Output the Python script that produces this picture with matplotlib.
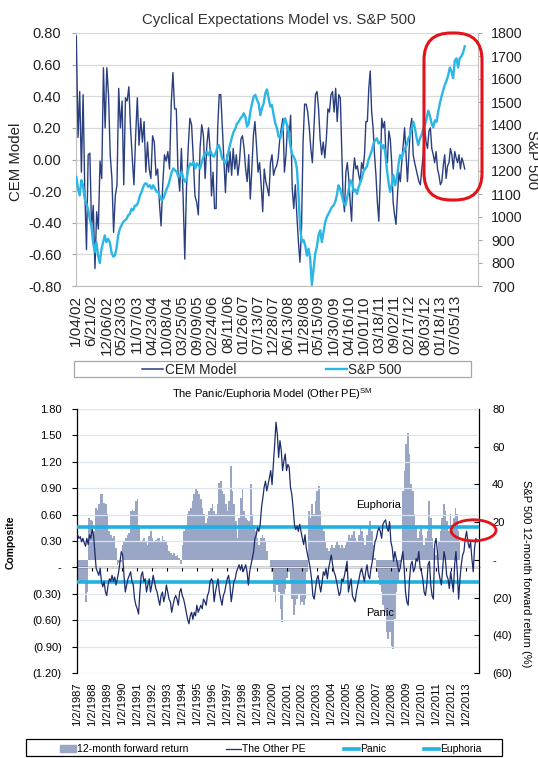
import numpy as np
import matplotlib
matplotlib.use("Agg")
import matplotlib.pyplot as plt
from matplotlib.patches import FancyBboxPatch, Ellipse, Rectangle, Patch
from matplotlib.lines import Line2D
from matplotlib.transforms import IdentityTransform

plt.rcParams['font.family'] = ['Liberation Sans', 'DejaVu Sans']

# ---------------- top chart data (x in weeks since 1/04/02) ----------------
cem_a = [0.78, 0.14, 0.43, -0.08, 0.41, -0.20, -0.57, 0.03, 0.04, -0.44, -0.29, -0.69, -0.33, -0.44,
         -0.01, -0.12, 0.58, 0.20, 0.58, 0.41, 0.03, -0.12, -0.46, -0.23, -0.16, 0.45, 0.20, 0.37,
         -0.16, 0.39, 0.37, 0.46, 0.20, 0.01, -0.16, 0.15, 0.39, 0.09, 0.26, 0.11, 0.24, -0.08, 0.11,
         -0.06, -0.12, 0.15, 0.11, -0.10, -0.06, -0.27, -0.42, -0.16, 0.03, -0.01, 0.05, -0.06, 0.35,
         0.55, 0.32, 0.32, -0.08, -0.20, 0.07, -0.23, -0.63, -0.18, 0.07, 0.26, 0.22, 0.01, -0.23,
         -0.27, -0.35, 0.07, 0.22, 0.15, -0.12, 0.09, 0.20, 0.05]
cem_b = [-0.23, -0.08, -0.31, -0.31, 0.20, 0.41, 0.41, 0.20, -0.02, -0.21, 0.03, -0.08, 0.05, -0.10,
         0.07, -0.06, 0.03, -0.10, -0.02, 0.13, 0.15, 0.07, -0.06, -0.14, 0.03, -0.25, -0.06, 0.15,
         0.24, 0.09, -0.08, -0.02, -0.16, -0.33, -0.06, -0.14, -0.18, -0.23, -0.02, 0.03, -0.10, -0.06,
         -0.04, 0.01, 0.13, 0.20, 0.26, -0.08, 0.03, 0.22, 0.15, 0.28, -0.18, -0.31, -0.16, -0.35,
         -0.52, -0.65, -0.44, 0.11, 0.35, 0.35, 0.30, 0.20, 0.07, -0.02, 0.20, 0.41, 0.43, 0.32, 0.13,
         0.03, 0.11, 0.01, 0.13, 0.32, 0.30, 0.41, 0.43, 0.30, 0.45, 0.24, 0.41, 0.39]
cem_c = [0.09, -0.23, -0.33, -0.08, -0.02, -0.12, -0.27, -0.39, -0.10, 0.01, -0.06, -0.04, -0.10,
         -0.14, -0.02, -0.06, 0.03, 0.24, 0.24, 0.45, 0.56, 0.30, 0.20, 0.03, -0.10, -0.27, -0.39,
         -0.12, 0.26, 0.20, 0.24, 0.03, -0.02, 0.18, 0.13, -0.02, -0.27, -0.35, -0.41, -0.23, -0.08,
         -0.14, -0.02, 0.09, 0.20, 0.03, -0.14, 0.03, 0.20, 0.26, 0.03, -0.02, -0.06, -0.10, -0.14,
         -0.16, -0.06, 0.03, 0.20, 0.11, 0.07, 0.18, 0.20, 0.07, 0.03, -0.02, 0.05, -0.06, -0.10,
         -0.16, -0.14, -0.04, 0.03, -0.12, -0.04, -0.02, 0.07, 0.03, -0.06, 0.05, 0.01, -0.02, 0.03,
         -0.06, 0.01, -0.02, -0.06]
cem_weeks = [(0, 212), (214, 418), (420, 615)]

spx_a = [1174, 1123, 1094, 1160, 1138, 1080, 1058, 1036, 992, 963, 891, 847, 891, 832, 800, 860,
         891, 920, 891, 905, 891, 847, 828, 832, 862, 920, 949, 963, 978, 985, 992, 1007, 1014,
         1036, 1029, 1050, 1050, 1065, 1094, 1109, 1131, 1145, 1145, 1131, 1138, 1123, 1138, 1123,
         1109, 1109, 1087, 1073, 1080, 1102, 1123, 1138, 1167, 1196, 1211, 1203, 1196, 1174, 1182,
         1196, 1167, 1153, 1167, 1211, 1233, 1225, 1240, 1211, 1233, 1225, 1211, 1240, 1262, 1276,
         1283, 1269, 1291]
spx_b = [1269, 1262, 1276, 1298, 1313, 1291, 1254, 1247, 1233, 1254, 1291, 1320, 1349, 1371, 1385,
         1407, 1414, 1429, 1436, 1451, 1436, 1393, 1407, 1458, 1494, 1524, 1531, 1509, 1494, 1443,
         1473, 1494, 1538, 1555, 1516, 1480, 1487, 1443, 1407, 1385, 1349, 1342, 1371, 1407, 1429,
         1400, 1371, 1313, 1276, 1262, 1247, 1211, 1094, 949, 891, 900, 876, 832, 862, 818, 705,
         774, 840, 870, 920, 942, 891, 935, 978, 1000, 1014, 1029, 1043, 1050, 1065, 1094, 1138,
         1123, 1094, 1065]
spx_c = [1050, 1080, 1120, 1160, 1150, 1110, 1120, 1100, 1130, 1150, 1170, 1200, 1210, 1220, 1250,
         1270, 1290, 1320, 1334, 1342, 1320, 1327, 1298, 1313, 1283, 1211, 1153, 1109, 1138, 1182,
         1138, 1167, 1225, 1269, 1254, 1283, 1298, 1313, 1342, 1356, 1385, 1414, 1385, 1342, 1313,
         1342, 1356, 1385, 1400, 1429, 1462, 1440, 1407, 1390, 1420, 1414, 1458, 1494, 1525, 1550,
         1575, 1592, 1615, 1650, 1633, 1604, 1680, 1690, 1650, 1691, 1698, 1715, 1742]
spx_weeks = [(0, 212), (215, 423), (426, 615)]

top_tick_labels = ['1/04/02', '6/21/02', '12/06/02', '05/23/03', '11/07/03', '04/23/04', '10/08/04',
                   '03/25/05', '09/09/05', '02/24/06', '08/11/06', '01/26/07', '07/13/07', '12/28/07',
                   '06/13/08', '11/28/08', '05/15/09', '10/30/09', '04/16/10', '10/01/10', '03/18/11',
                   '09/02/11', '02/17/12', '08/03/12', '01/18/13', '07/05/13']
top_tick_step = 24  # weeks between labels
left_ticks_top = [-0.8, -0.6, -0.4, -0.2, 0.0, 0.2, 0.4, 0.6, 0.8]
right_ticks_top = list(range(700, 1801, 100))

# ---------------- bottom chart data (x in years) ----------------
comp_a = [0.37, 0.33, 0.35, 0.29, 0.33, 0.28, 0.24, 0.33, 0.26, 0.37, 0.33, 0.43, 0.37, 0.18, -0.01,
          -0.05, -0.09, -0.01, -0.16, -0.22, -0.16, -0.28, -0.32, -0.20, -0.13, -0.16, -0.09, -0.16,
          -0.11, -0.20, -0.13, -0.05, 0.07, 0.18, 0.14, -0.09, -0.28, -0.20, -0.13, -0.09, -0.05,
          -0.16, -0.20, -0.36, -0.43, -0.47, -0.53, -0.28, -0.09, -0.05, -0.16, -0.13, -0.28, -0.20,
          -0.13, -0.28, -0.20, -0.09, -0.16, -0.24, -0.28, -0.36, -0.43, -0.32, -0.28, -0.39, -0.32,
          -0.20, -0.28, -0.36, -0.39, -0.51, -0.43, -0.36, -0.32, -0.36, -0.43, -0.28, -0.24, -0.32,
          -0.36, -0.43, -0.51, -0.59, -0.64, -0.55, -0.51, -0.59, -0.51, -0.55, -0.43, -0.51, -0.47,
          -0.43, -0.47, -0.36, -0.39, -0.43, -0.32, -0.28, -0.16, -0.13]
comp_b = [-0.16, -0.39, -0.28, -0.20, -0.13, -0.28, -0.36, -0.43, -0.32, -0.28, -0.20, -0.13, -0.09,
          -0.20, -0.39, -0.28, -0.16, -0.13, -0.05, -0.01, 0.03, -0.03, 0.03, -0.05, -0.01, 0.03,
          -0.05, -0.20, -0.05, 0.03, 0.10, 0.18, 0.33, 0.37, 0.45, 0.41, 0.49, 0.68, 0.79, 0.91, 0.98,
          0.87, 0.94, 1.02, 1.10, 0.94, 1.17, 1.40, 1.65, 1.52, 1.25, 1.44, 1.33, 1.10, 1.21, 1.29,
          1.10, 1.17, 1.14, 0.91, 0.83, 0.68, 0.49, 0.43, 0.47, 0.41, 0.49, 0.41, 0.33, 0.26, 0.37,
          0.22, 0.14, 0.07, -0.01, -0.13, -0.32, -0.36, -0.24, -0.13, -0.09, -0.20, -0.28, -0.16,
          -0.05, -0.09, -0.01, -0.13, -0.01, 0.07, 0.14, 0.03, -0.05, -0.09, -0.16, -0.24, -0.32,
          -0.28, -0.13, -0.16, -0.09, -0.01, 0.07]
comp_c = [-0.28, -0.20, -0.13, -0.32, -0.36, -0.39, -0.28, -0.20, -0.13, -0.05, -0.01, -0.09, -0.16,
          -0.05, 0.03, -0.09, -0.13, -0.01, 0.07, 0.18, 0.29, 0.33, 0.41, 0.45, 0.41, 0.33, 0.49, 0.52,
          0.54, 0.45, 0.41, 0.52, 0.29, 0.22, 0.07, 0.18, 0.10, 0.03, -0.05, -0.01, 0.10, 0.18, -0.01,
          -0.28, -0.39, -0.43, -0.13, 0.03, 0.07, -0.05, -0.01, 0.10, 0.07, 0.18, -0.01, -0.05, -0.13,
          -0.28, -0.32, -0.20, 0.03, 0.07, -0.20, -0.32, -0.36, 0.26, 0.33, 0.18, -0.05, -0.13, -0.20,
          -0.01, 0.18, 0.10, -0.09, -0.13, -0.24, -0.05, -0.16, -0.28, 0.03, 0.18, -0.05, -0.36,
          -0.13, 0.03, 0.14, 0.18, 0.33, 0.41, 0.29, 0.22, 0.29, 0.10, -0.05, 0.22, 0.33, 0.29]
comp_years = [(1987.04, 1995.98), (1996.07, 2005.04), (2005.13, 2013.73)]

fwd_a = [-10.7, -10.7, -11.6, -11.2, -12.5, -22.3, -16.9, 22.3, 21.4, 20.5, 15.2, 27.6, 26.7, 29.4,
         34.8, 35.1, 30.3, 29.4, 24.1, 15.2, 13.4, 11.6, 12.5, 6.2, -2.7, -1.8, -0.9, 8.0, 9.8, 11.6,
         13.4, 14.3, 25.8, 26.7, 25.8, 31.2, 32.1, 18.7, 9.8, 10.7, 11.6, 9.8, 8.0, 12.5, 15.2, 11.6,
         9.8, 10.7, 11.6, 11.6, 9.8, 12.5, 10.7, 9.8, 8.0, 4.5, 3.6, 2.7, 3.6, 1.8, 2.7, 0.9, -2.3,
         8.0, 15.2, 18.7, 24.1, 25.8, 27.6, 31.2, 34.8, 38.3, 36.5, 34.8, 32.1, 27.6, 24.1, 19.6,
         22.3, 25.8, 27.6, 29.4]
fwd_b = [25.8, 24.1, 29.4, 41.0, 41.9, 36.5, 34.8, 29.4, 25.8, 31.2, 49.9, 36.5, 29.4, 20.5, 11.6,
         22.3, 33.0, 38.3, 25.8, 22.3, 21.4, 20.5, 40.1, 24.1, 18.7, 15.2, 11.6, 8.0, 11.6, 13.4,
         11.6, 9.8, 4.5, 0.0, -4.5, -6.2, -16.9, -22.3, -13.4, -16.9, -25.8, -33.0, -18.7, -15.2,
         -9.8, -6.2, -11.6, -20.5, -29.4, -24.1, -20.5, -18.7, -24.1, -22.3, -24.1, -20.5, -6.2,
         25.8, 22.3, 29.4, 24.1, 31.2, 36.5, 39.2, 25.8, 16.9, 15.2, 9.8, 6.2, 4.5, 6.2, 8.0, 6.2,
         8.0, 9.8, 8.0, 6.2, 8.0, 6.2, 8.0, 9.8]
fwd_c = [13.4, 11.6, 13.4, 15.2, 11.6, 9.8, 13.4, 16.9, 15.2, 11.6, 8.0, 13.4, 16.9, 20.5, 15.2, 8.0,
         0.9, -6.2, -9.8, -13.4, -16.9, -24.1, -27.6, -38.3, -41.9, -38.3, -45.5, -47.2, -31.2,
         -16.9, -11.6, -6.2, -0.9, 36.5, 47.2, 61.5, 67.2, 56.1, 40.1, 36.5, 24.1, 16.9, 11.6, 15.2,
         18.7, 13.4, 8.0, 11.6, 15.2, 31.2, 22.3, 11.6, 6.2, 2.7, 4.5, 9.8, 15.2, 22.3, 29.4, 25.8,
         20.5, 15.2, 24.1, 18.7, 22.3, 27.6, 24.1, 15.2, 9.8]
fwd_years = [(1987.04, 1996.04), (1996.16, 2005.04), (2005.16, 2012.60)]

euphoria_level = 0.46
panic_level = -0.17
bottom_years = list(range(1987, 2014))
bottom_tick_labels = ['1/2/%d' % y for y in bottom_years]
left_ticks_bot = [1.8, 1.5, 1.2, 0.9, 0.6, 0.3, 0.0, -0.3, -0.6, -0.9, -1.2]
left_labels_bot = ['1.80', '1.50', '1.20', '0.90', '0.60', '0.30', '-', '(0.30)', '(0.60)', '(0.90)', '(1.20)']
right_ticks_bot = [80, 60, 40, 20, 0, -20, -40, -60]
right_labels_bot = ['80', '60', '40', '20', '-', '(20)', '(40)', '(60)']


def seg_x(segments, arrays):
    xs, ys = [], []
    for (a, b), arr in zip(segments, arrays):
        xs.append(np.linspace(a, b, len(arr)))
        ys.append(np.asarray(arr, dtype=float))
    return np.concatenate(xs), np.concatenate(ys)


cem_x, cem_y = seg_x(cem_weeks, [cem_a, cem_b, cem_c])
spx_x, spx_y = seg_x(spx_weeks, [spx_a, spx_b, spx_c])
comp_x, comp_y = seg_x(comp_years, [comp_a, comp_b, comp_c])
fwd_x, fwd_y = seg_x(fwd_years, [fwd_a, fwd_b, fwd_c])

NAVY = '#2A3F80'
CYAN = '#2BB6E6'
BAR = '#9AA6C5'
GREY_TXT = '#222222'
W, H = 538, 758

fig = plt.figure(figsize=(W / 100, H / 100), dpi=100)
fig.patch.set_facecolor('white')

# ================= TOP CHART =================
ax1 = fig.add_axes([76 / W, 1 - 286 / H, 402 / W, 253 / H])
ax1r = ax1.twinx()
ax1.plot(cem_x, cem_y, color=NAVY, lw=1.0, zorder=3)
ax1r.plot(spx_x, spx_y, color=CYAN, lw=1.7, zorder=3)
ax1.set_ylim(-0.8, 0.8)
ax1r.set_ylim(700, 1800)
ax1.set_xlim(-0.5, 636)
ax1.set_yticks(left_ticks_top, ['%.2f' % v for v in left_ticks_top])
ax1r.set_yticks(right_ticks_top, [str(v) for v in right_ticks_top])
ticks = np.arange(len(top_tick_labels)) * top_tick_step
ax1.set_xticks(ticks, top_tick_labels, rotation=90)
ax1.tick_params(axis='x', length=0, pad=6.5, labelsize=11, labelcolor=GREY_TXT)
ax1.tick_params(axis='y', length=3, width=0.8, color='#A6A6A6', pad=7.5, labelsize=10.5,
                labelcolor=GREY_TXT)
ax1r.tick_params(axis='y', length=3, width=0.8, color='#A6A6A6', pad=6.5, labelsize=10.3,
                 labelcolor=GREY_TXT)
ax1.yaxis.grid(True, color='#D9D9D9', lw=0.9)
ax1.set_axisbelow(True)
ax1.spines['top'].set_visible(False)
for s in ['left', 'bottom']:
    ax1.spines[s].set_color('#BFBFBF')
ax1.spines['right'].set_visible(False)
for s in ['top', 'left', 'bottom']:
    ax1r.spines[s].set_visible(False)
ax1r.spines['right'].set_color('#BFBFBF')

fig.text(279 / W, 1 - 20 / H, 'Cyclical Expectations Model vs. S&P 500', ha='center', va='center',
         fontsize=10.8, color='#333333')
fig.text(16 / W, 1 - 162 / H, 'CEM Model', rotation=90, ha='center', va='center', fontsize=10.8,
         color=GREY_TXT)
fig.text(532 / W, 1 - 160 / H, 'S&P 500', rotation=270, ha='center', va='center', fontsize=10.8,
         color=GREY_TXT)

# top legend
fig.legend([Line2D([], [], color=NAVY, lw=1.1), Line2D([], [], color=CYAN, lw=1.7)],
           ['CEM Model', 'S&P 500'], loc='center', bbox_to_anchor=(272 / W, 1 - 370 / H),
           ncol=2, frameon=False, fontsize=9.8, handlelength=1.55, handletextpad=0.1,
           columnspacing=6.6, labelcolor=GREY_TXT)
fig.add_artist(Rectangle((74, H - 377), 397, 16, transform=IdentityTransform(), fill=False,
                         ec='#A6A6A6', lw=0.9))

# red rounded box
fig.add_artist(FancyBboxPatch((424, H - 200), 58, 167, boxstyle='round,pad=0,rounding_size=27',
                              transform=IdentityTransform(), fill=False, ec='#E3121A', lw=2.2,
                              zorder=10))

# ================= BOTTOM CHART =================
ax2 = fig.add_axes([77 / W, 1 - 673 / H, 402 / W, 264 / H])
ax2r = ax2.twinx()
ax2.set_zorder(ax2r.get_zorder() + 1)
ax2.patch.set_visible(False)
ax2r.fill_between(fwd_x, fwd_y, 0, step='mid', color=BAR, lw=0)
ax2.plot(comp_x, comp_y, color='#1C2C6C', lw=0.9, zorder=4)
ax2.axhline(euphoria_level, color='#1FB1E3', lw=2.6, zorder=3)
ax2.axhline(panic_level, color='#1FB1E3', lw=2.6, zorder=3)
ax2.set_ylim(-1.2, 1.8)
ax2r.set_ylim(-60, 80)
ax2.set_xlim(1987.0, 2013.85)
ax2.set_yticks(left_ticks_bot, left_labels_bot)
ax2r.set_yticks(right_ticks_bot, right_labels_bot)
ax2.set_xticks(bottom_years, bottom_tick_labels, rotation=90)
ax2.tick_params(axis='x', length=0, pad=6.5, labelsize=8)
ax2.tick_params(axis='y', length=3.5, width=0.8, color='black', pad=7.5, labelsize=8)
ax2r.tick_params(axis='y', direction='in', length=3.5, width=0.8, color='black', pad=9.5,
                 labelsize=8)
ax2.yaxis.grid(True, color='#DCE4EE', lw=0.9)
ax2.set_axisbelow(True)
for s in ['top', 'bottom', 'right']:
    ax2.spines[s].set_visible(False)
ax2.spines['left'].set_color('black')
ax2.spines['left'].set_linewidth(0.9)
for s in ['top', 'bottom', 'left']:
    ax2r.spines[s].set_visible(False)
ax2r.spines['right'].set_color('black')
ax2r.spines['right'].set_linewidth(0.9)

zero_frac = (0 - (-1.2)) / 3.0
sec = ax2.secondary_xaxis(zero_frac)
sec.set_xticks(bottom_years[1:])
sec.tick_params(axis='x', direction='out', length=3, width=0.8, color='black', labelbottom=False,
                labeltop=False)
sec.spines['bottom'].set_color('black')
sec.spines['bottom'].set_linewidth(1.0)

ax2.text(2007.13, 0.71, 'Euphoria', ha='center', va='center', fontsize=8)
ax2.text(2007.27, -0.515, 'Panic', ha='center', va='center', fontsize=8)

fig.text(272 / W, 1 - 394 / H, r'The Panic/Euphoria Model (Other PE)$^{\mathregular{SM}}$',
         ha='center', va='center', fontsize=8)
fig.text(11 / W, 1 - 542 / H, 'Composite', rotation=90, ha='center', va='center', fontsize=7.5,
         fontweight='bold')
fig.text(526 / W, 1 - 574 / H, 'S&P 500 12-month forward return (%)', rotation=270, ha='center',
         va='center', fontsize=8)

# bottom legend
fig.legend([Patch(color=BAR), Line2D([], [], color='#1C2C6C', lw=0.9),
            Line2D([], [], color='#1FB1E3', lw=2.6), Line2D([], [], color='#1FB1E3', lw=2.6)],
           ['12-month forward return', 'The Other PE', 'Panic', 'Euphoria'], loc='center',
           bbox_to_anchor=(271 / W, 1 - 749 / H), ncol=4, frameon=False, fontsize=7.5,
           handlelength=1.5, handleheight=0.6, handletextpad=0.1, columnspacing=3.6)
fig.add_artist(Rectangle((26, H - 756), 476, 17, transform=IdentityTransform(), fill=False,
                         ec='black', lw=0.9))

# red ellipse
fig.add_artist(Ellipse((473.5, H - 530.3), 45, 21, transform=IdentityTransform(), fill=False,
                       ec='#E3121A', lw=2.0, zorder=10))

fig.savefig('out.png', dpi=100, facecolor='white')
